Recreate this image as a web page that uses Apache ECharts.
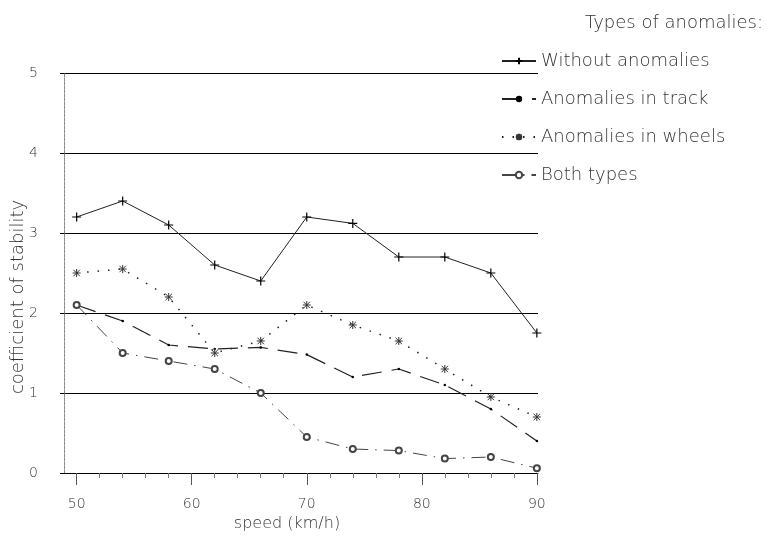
<!DOCTYPE html>
<html>
<head>
<meta charset="utf-8">
<script src="https://cdn.jsdelivr.net/npm/echarts@6/dist/echarts.min.js"></script>
<style>
  html, body { margin: 0; padding: 0; background: #fff; }
  #echart { width: 766px; height: 544px; }
</style>
</head>
<body>
<div id="echart"></div>
<script>
let speeds = [50, 54, 58, 62, 66, 70, 74, 78, 82, 86, 90];
let withoutAnomalies = [3.2, 3.4, 3.1, 2.6, 2.4, 3.2, 3.12, 2.7, 2.7, 2.5, 1.75];
let anomaliesTrack = [2.1, 1.9, 1.6, 1.55, 1.57, 1.48, 1.2, 1.3, 1.1, 0.8, 0.4];
let anomaliesWheels = [2.5, 2.55, 2.2, 1.5, 1.65, 2.1, 1.85, 1.65, 1.3, 0.95, 0.7];
let bothTypes = [2.1, 1.5, 1.4, 1.3, 1.0, 0.45, 0.3, 0.28, 0.18, 0.2, 0.06];
let majorTicks = [50, 60, 70, 80, 90];
let minorTicks = [52, 54, 56, 58, 62, 64, 66, 68, 72, 74, 76, 78, 82, 84, 86, 88];

const plusPath = 'path://M0,5L10,5M5,0L5,10';
const starPath = 'path://M1,1L9,9M9,1L1,9M5,0L5,10M0,5L10,5';

function pairs(vals) {
	return speeds.map((s, i) => [s, vals[i]]);
}

function drawChart() {
	let dom = document.getElementById("echart");
	let myChart = echarts.init(dom);
	let font = 'DejaVu Sans';
	let txt = '#333';

	let option = {
		animation: false,
		backgroundColor: '#fff',
		title: {
			text: 'Types of anomalies:',
			right: -2,
			top: 9,
			textStyle: { fontFamily: font, fontSize: 18, fontWeight: 'lighter', color: txt }
		},
		legend: {
			orient: 'vertical',
			left: 496,
			top: 47,
			itemWidth: 34,
			itemHeight: 8,
			itemGap: 20,
			textStyle: { fontFamily: font, fontSize: 18, fontWeight: 'lighter', color: txt, lineHeight: 18 },
			data: ['Without anomalies', 'Anomalies in track', 'Anomalies in wheels', 'Both types']
		},
		// y axis title, placed by hand like the original
		graphic: [
			{
				type: 'text',
				x: 18,
				y: 297,
				rotation: Math.PI / 2,
				style: {
					text: 'coefficient of stability',
					fontFamily: font,
					fontSize: 18,
					fontWeight: 'lighter',
					fill: txt,
					align: 'center',
					verticalAlign: 'middle'
				}
			}
		],
		grid: {
			left: 64,
			right: 228,
			top: 73,
			bottom: 71,
			outerBoundsMode: 'none'
		},
		xAxis: [
			{
				type: 'value',
				min: 48.9,
				max: 90.1,
				name: 'speed (km/h)',
				nameLocation: 'middle',
				nameGap: 40,
				nameTextStyle: { fontFamily: font, fontSize: 16, fontWeight: 'lighter', color: txt, padding: [0, 28, 0, 0] },
				axisLine: { show: true, lineStyle: { color: '#000', width: 1 } },
				axisTick: { show: true, length: 12, customValues: majorTicks, lineStyle: { color: '#555' } },
				axisLabel: { customValues: majorTicks, fontFamily: font, fontSize: 14, fontWeight: 'lighter', color: txt, margin: 24 },
				splitLine: { show: false }
			},
			{
				type: 'value',
				min: 48.9,
				max: 90.1,
				position: 'bottom',
				axisLine: { show: false },
				axisTick: { show: true, length: 5, customValues: minorTicks, lineStyle: { color: '#777' } },
				axisLabel: { show: false },
				splitLine: { show: false }
			}
		],
		yAxis: {
			type: 'value',
			min: 0,
			max: 5,
			interval: 1,
			axisLine: { show: true, lineStyle: { color: '#888', width: 1, type: [3, 1] } },
			axisTick: { show: true, length: 4, lineStyle: { color: '#000' } },
			axisLabel: { fontFamily: font, fontSize: 14, fontWeight: 'lighter', color: txt, margin: 26 },
			splitLine: { show: true, lineStyle: { color: '#000', width: 1.2 } }
		},
		series: [
			{
				name: 'Without anomalies',
				type: 'line',
				data: pairs(withoutAnomalies),
				symbol: plusPath,
				symbolSize: 9,
				lineStyle: { color: '#222', width: 1 },
				itemStyle: { color: '#000', borderColor: '#000', borderWidth: 1.2 }
			},
			{
				name: 'Anomalies in track',
				type: 'line',
				data: pairs(anomaliesTrack),
				symbol: 'circle',
				symbolSize: 2.5,
				lineStyle: { color: '#222', width: 1.2, type: [20, 10] },
				itemStyle: { color: '#000' }
			},
			{
				name: 'Anomalies in wheels',
				type: 'line',
				data: pairs(anomaliesWheels),
				symbol: starPath,
				symbolSize: 8,
				lineStyle: { color: '#222', width: 1.5, type: [1.5, 9] },
				itemStyle: { color: '#000', borderColor: '#333', borderWidth: 1 }
			},
			{
				name: 'Both types',
				type: 'line',
				data: pairs(bothTypes),
				symbol: 'emptyCircle',
				symbolSize: 6,
				lineStyle: { color: '#444', width: 1, type: [14, 7, 1.5, 7] },
				itemStyle: { color: '#444', borderColor: '#555', borderWidth: 0.6 }
			}
		]
	};

	myChart.setOption(option);
}

drawChart();
</script>
</body>
</html>
